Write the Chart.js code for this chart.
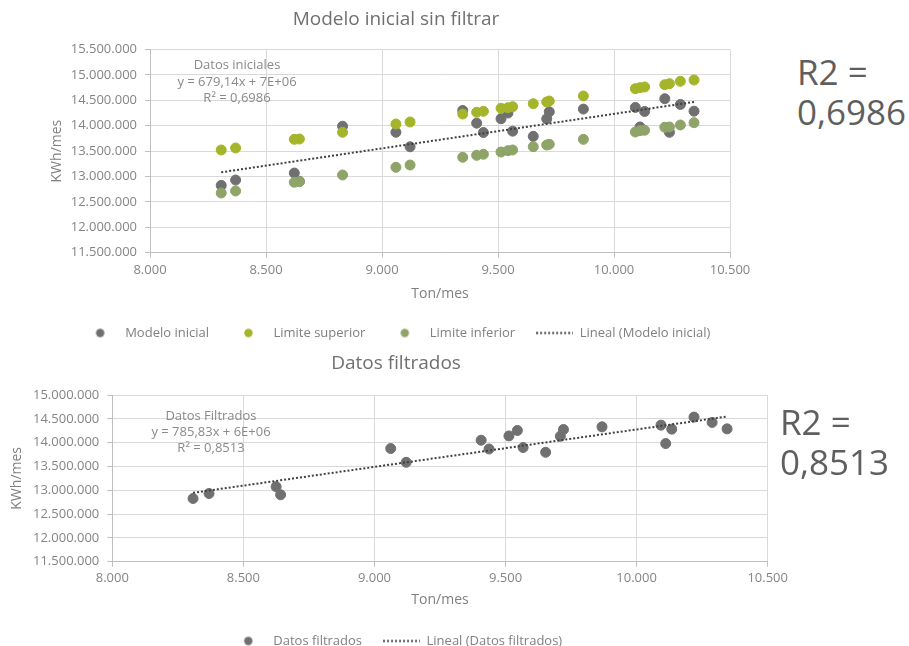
<!DOCTYPE html>
<html><head><meta charset="utf-8">
<script src="https://cdn.jsdelivr.net/npm/chart.js@4/dist/chart.umd.min.js"></script>
<style>
html,body{margin:0;padding:0;background:#fff;overflow:hidden;width:909px;height:646px;position:relative;}
canvas{position:absolute;left:0;}
#c1{top:0}
#c2{top:330px}
.note{position:absolute;font-family:'Open Sans';font-size:13px;color:#8a8a8a;text-align:center;width:200px;white-space:nowrap}
.r2{position:absolute;font-family:'Open Sans';font-size:35px;line-height:40px;color:#5f5f5f;white-space:nowrap}
</style></head><body>
<canvas id="c1" width="792" height="350"></canvas>
<canvas id="c2" width="792" height="330"></canvas>
<div class="note" style="left:137px;top:56px;line-height:16.5px">Datos iniciales<br>y = 679,14x + 7E+06<br>R² = 0,6986</div>
<div class="note" style="left:111px;top:407px;line-height:16px">Datos Filtrados<br>y = 785,83x + 6E+06<br>R² = 0,8513</div>
<div class="r2" style="left:797px;top:52px">R2 =<br>0,6986</div>
<div class="r2" style="left:780px;top:402px">R2 =<br>0,8513</div>
<script>
// ---- data (Ton/mes, KWh/mes) ----
const xInicial = [8307, 8369, 8622, 8644, 8830, 9060, 9121, 9348, 9408, 9437, 9513, 9543, 9563, 9652, 9710, 9721, 9868, 10092, 10112, 10132, 10219, 10239, 10286, 10345];
const yModeloInicial = [12825000, 12930000, 13068000, 12905000, 13990000, 13870000, 13585000, 14300000, 14050000, 13865000, 14137000, 14250000, 13893000, 13790000, 14134000, 14273000, 14327000, 14360000, 13975000, 14280000, 14531000, 13870000, 14418000, 14286000];
const yLimiteSuperior = [13522000, 13561000, 13732000, 13738000, 13870000, 14033000, 14073000, 14230000, 14264000, 14283000, 14343000, 14354000, 14374000, 14433000, 14467000, 14486000, 14585000, 14728000, 14748000, 14762000, 14807000, 14827000, 14874000, 14900000];
const yLimiteInferior = [12675000, 12715000, 12886000, 12898000, 13030000, 13181000, 13226000, 13378000, 13417000, 13437000, 13482000, 13508000, 13522000, 13587000, 13620000, 13634000, 13732000, 13876000, 13902000, 13910000, 13968000, 13974000, 14014000, 14059000];
const xTrendInicial = [8307, 10345];
const yTrendInicial = [13083000, 14467000];

const xFiltrados = [8308, 8369, 8625, 8642, 9062, 9121, 9407, 9437, 9513, 9545, 9567, 9653, 9709, 9721, 9868, 10093, 10111, 10134, 10219, 10288, 10345];
const yFiltrados = [12827000, 12932000, 13074000, 12905000, 13876000, 13587000, 14051000, 13867000, 14141000, 14255000, 13897000, 13797000, 14135000, 14276000, 14331000, 14367000, 13980000, 14283000, 14536000, 14424000, 14289000];
const xTrendFiltrados = [8308, 10345];
const yTrendFiltrados = [12947000, 14548000];

const xTicks = [8000, 8500, 9000, 9500, 10000, 10500];
const yTicks1 = [11500000, 12000000, 12500000, 13000000, 13500000, 14000000, 14500000, 15000000, 15500000];
const yTicks2 = [11500000, 12000000, 12500000, 13000000, 13500000, 14000000, 14500000, 15000000];

// ---- helpers ----
const pts = (xs, ys) => xs.map((x, i) => ({x: x, y: ys[i]}));
const fmt = v => String(Math.round(v)).replace(/\B(?=(\d{3})+(?!\d))/g, '.');
const FONT = 'Open Sans';
const TICK_COLOR = '#858585';
const GRID = '#d9d9d9';
const AXIS = '#bfbfbf';
const C_MODEL = '#707070', C_SUP = '#a5b52a', C_INF = '#8fa468', C_TREND = '#404040';

function dotIcon(color) {
  const c = document.createElement('canvas'); c.width = 37; c.height = 13;
  const g = c.getContext('2d'); g.fillStyle = color; g.beginPath(); g.arc(18.5, 6.5, 4.2, 0, Math.PI * 2); g.fill();
  return c;
}
function dashIcon(color) {
  const c = document.createElement('canvas'); c.width = 37; c.height = 13;
  const g = c.getContext('2d'); g.strokeStyle = color; g.lineWidth = 2; g.setLineDash([2, 2]);
  g.beginPath(); g.moveTo(0, 6.5); g.lineTo(37, 6.5); g.stroke();
  return c;
}

function makeChart(id, cfg) {
  const datasets = cfg.datasets;
  return new Chart(document.getElementById(id), {
    type: 'scatter',
    data: {datasets: datasets},
    options: {
      responsive: false, animation: false, devicePixelRatio: 1, events: [],
      layout: {padding: {left: 0, right: 0, top: 0, bottom: cfg.padBottom}},
      scales: {
        x: {
          type: 'linear', position: 'bottom', min: 8000, max: 10500,
          afterBuildTicks: s => { s.ticks = xTicks.map(v => ({value: v})); },
          afterFit: s => { s.height = cfg.xHeight; },
          ticks: {callback: v => fmt(v), font: {family: FONT, size: 13}, color: TICK_COLOR, padding: cfg.xTickPad, maxRotation: 0, autoSkip: false},
          grid: {color: GRID, tickColor: AXIS, tickLength: 5},
          border: {color: AXIS},
          title: {display: true, text: 'Ton/mes', font: {family: FONT, size: 14}, color: '#808080', padding: {top: 0, bottom: cfg.xTitlePad}}
        },
        y: {
          type: 'linear', position: 'left', min: 11500000, max: cfg.yMax,
          afterBuildTicks: s => { s.ticks = cfg.yTicks.map(v => ({value: v})); },
          afterFit: s => { s.width = cfg.yWidth; },
          ticks: {callback: v => fmt(v), font: {family: FONT, size: 13}, color: TICK_COLOR, padding: 8},
          grid: {color: GRID, tickColor: AXIS, tickLength: 5},
          border: {color: AXIS},
          title: {display: true, text: 'KWh/mes', font: {family: FONT, size: 14}, color: '#808080', padding: {top: cfg.yTitlePad, bottom: 0}}
        },
        yR: {
          type: 'linear', position: 'right', display: true,
          afterFit: s => { s.width = cfg.rightWidth; },
          grid: {display: false, drawTicks: false}, border: {display: false}, ticks: {display: false}
        }
      },
      plugins: {
        tooltip: {enabled: false},
        title: {display: true, text: cfg.title, font: {family: FONT, size: 19, weight: 'normal'}, color: '#707070', padding: cfg.titlePad},
        legend: {
          display: true, position: 'bottom', align: 'center',
          labels: {
            usePointStyle: true, pointStyleWidth: 37, padding: 21,
            font: {family: FONT, size: 13}, color: '#808080',
            generateLabels: chart => chart.data.datasets.map((ds, i) => ({
              text: ds.label, datasetIndex: i, hidden: false, lineWidth: 0,
              fillStyle: ds.backgroundColor, strokeStyle: ds.borderColor, fontColor: '#808080',
              pointStyle: ds.showLine ? dashIcon(ds.borderColor) : dotIcon(ds.backgroundColor)
            }))
          }
        }
      }
    }
  });
}

makeChart('c1', {
  title: 'Modelo inicial sin filtrar',
  titlePad: {top: 8.6, bottom: 18.1},
  yMax: 15500000, yTicks: yTicks1, yWidth: 150, rightWidth: 62, yTitlePad: 48.6,
  xHeight: 52.8, xTickPad: 5, xTitlePad: 3.1, padBottom: 0.5,
  datasets: [
    {label: 'Modelo inicial', data: pts(xInicial, yModeloInicial), backgroundColor: C_MODEL, borderColor: C_MODEL, borderWidth: 1, pointRadius: 5, order: 3},
    {label: 'Limite superior', data: pts(xInicial, yLimiteSuperior), backgroundColor: C_SUP, borderColor: C_SUP, borderWidth: 1, pointRadius: 5, order: 2},
    {label: 'Limite inferior', data: pts(xInicial, yLimiteInferior), backgroundColor: C_INF, borderColor: C_INF, borderWidth: 1, pointRadius: 5, order: 1},
    {label: 'Lineal (Modelo inicial)', data: pts(xTrendInicial, yTrendInicial), showLine: true, borderColor: C_TREND, backgroundColor: C_TREND, borderWidth: 2, borderDash: [2, 2], pointRadius: 0, order: 0}
  ]
});

makeChart('c2', {
  title: 'Datos filtrados',
  titlePad: {top: 22.6, bottom: 19.6},
  yMax: 15000000, yTicks: yTicks2, yWidth: 112.3, rightWidth: 24.3, yTitlePad: 9.1,
  xHeight: 51.8, xTickPad: 4, xTitlePad: 5.1, padBottom: 2.5,
  datasets: [
    {label: 'Datos filtrados', data: pts(xFiltrados, yFiltrados), backgroundColor: C_MODEL, borderColor: C_MODEL, borderWidth: 1, pointRadius: 5, order: 1},
    {label: 'Lineal (Datos filtrados)', data: pts(xTrendFiltrados, yTrendFiltrados), showLine: true, borderColor: C_TREND, backgroundColor: C_TREND, borderWidth: 2, borderDash: [2, 2], pointRadius: 0, order: 0}
  ]
});
</script>
</body></html>
